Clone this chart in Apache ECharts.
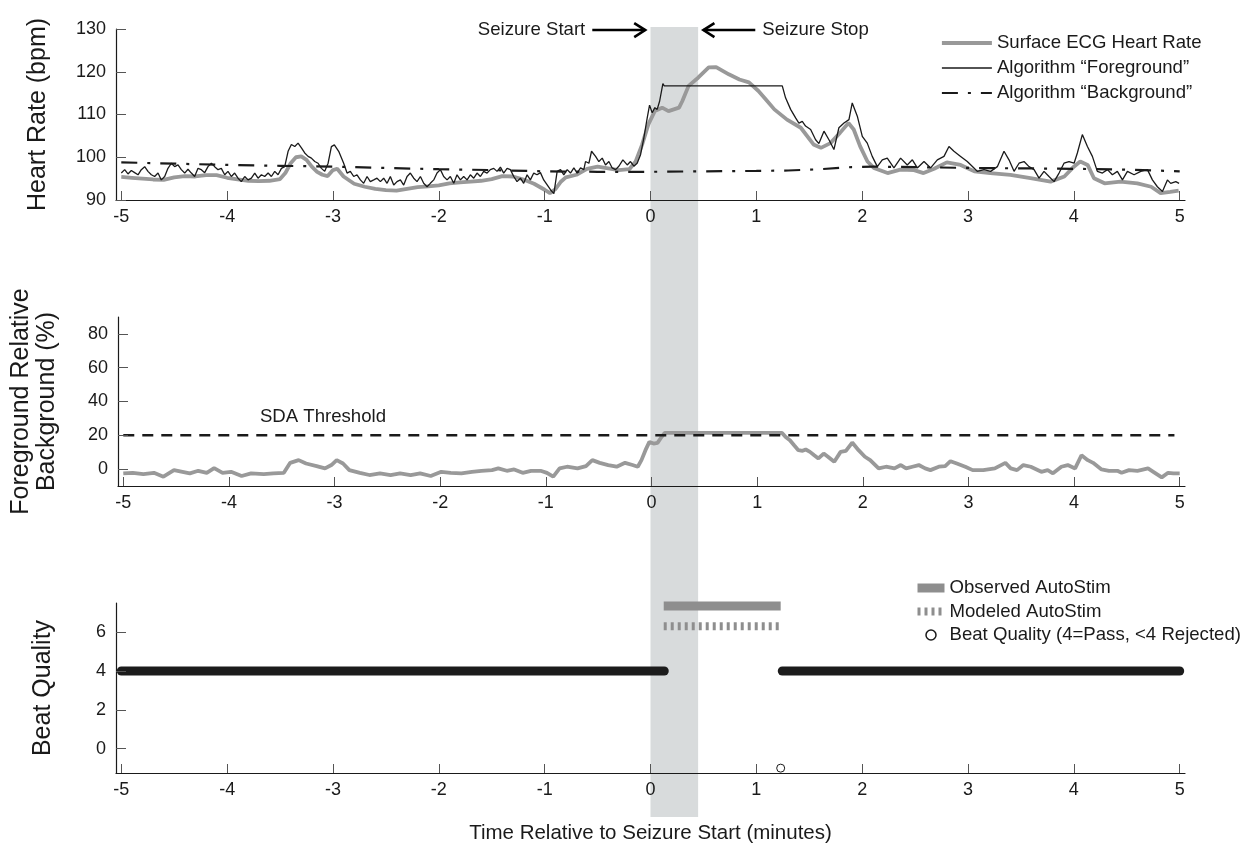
<!DOCTYPE html>
<html><head><meta charset="utf-8">
<script src="https://cdn.jsdelivr.net/npm/echarts@6/dist/echarts.min.js"></script>
<style>html,body{margin:0;padding:0;background:#fff}#c{width:1251px;height:847px}</style>
</head><body><div id="c"></div>
<script>
// ---------- data ----------
const xTicks = [-5,-4,-3,-2,-1,0,1,2,3,4,5];
const hrTicks = [90,100,110,120,130];
const relTicks = [0,20,40,60,80];
const bqTicks = [0,2,4,6];

const seizureStart = 0, seizureStop = 0.45;

const ecgTime = [-5.0,-4.9,-4.8,-4.7,-4.6,-4.5,-4.4,-4.3,-4.2,-4.1,-4.0,-3.9,-3.8,-3.7,-3.6,-3.5,-3.45,-3.4,-3.35,-3.3,-3.25,-3.2,-3.15,-3.1,-3.05,-3.0,-2.96,-2.9,-2.8,-2.7,-2.6,-2.5,-2.4,-2.3,-2.2,-2.1,-2.0,-1.9,-1.8,-1.7,-1.6,-1.5,-1.4,-1.3,-1.2,-1.1,-1.0,-0.95,-0.9,-0.85,-0.8,-0.7,-0.6,-0.5,-0.4,-0.3,-0.2,-0.14,-0.08,-0.02,0.04,0.11,0.17,0.22,0.27,0.30,0.36,0.45,0.55,0.62,0.74,0.84,0.93,1.02,1.09,1.17,1.29,1.42,1.54,1.61,1.70,1.79,1.87,1.92,1.98,2.05,2.11,2.24,2.36,2.49,2.58,2.68,2.80,2.93,3.06,3.21,3.40,3.59,3.78,3.91,4.0,4.06,4.13,4.19,4.29,4.44,4.60,4.73,4.82,4.91,4.99];
const ecgRate = [95.4,95.2,95.0,94.8,94.7,95.3,95.6,95.5,95.8,95.8,95.2,94.8,94.5,94.4,94.5,94.9,96.3,98.6,100.0,100.2,99.4,97.8,96.6,95.9,95.6,97.0,97.3,95.5,93.8,93.1,92.6,92.3,92.2,92.6,93.0,93.2,93.4,93.9,94.1,94.3,94.5,94.9,95.6,95.5,94.8,93.8,92.4,91.6,92.5,94.2,95.3,95.9,97.3,97.8,97.4,97.0,97.2,99.0,102.9,107.7,110.8,111.6,110.8,111.2,111.6,113.1,116.7,118.6,121.0,121.1,119.4,118.2,117.5,115.5,113.5,111.2,108.8,106.9,103.0,102.2,103.3,105.7,108.0,106.5,102.6,99.0,97.5,96.3,97.1,97.0,96.3,97.3,98.8,98.2,96.7,96.3,95.9,95.1,94.3,95.5,97.8,99.0,98.2,95.1,93.9,94.3,93.9,93.1,91.6,91.9,92.2];

const fgTime = [-5.0,-4.968,-4.937,-4.905,-4.874,-4.842,-4.811,-4.779,-4.748,-4.716,-4.685,-4.653,-4.622,-4.590,-4.559,-4.527,-4.496,-4.464,-4.433,-4.401,-4.370,-4.338,-4.307,-4.275,-4.244,-4.212,-4.181,-4.149,-4.118,-4.086,-4.055,-4.023,-3.992,-3.960,-3.929,-3.897,-3.866,-3.834,-3.802,-3.771,-3.739,-3.708,-3.676,-3.645,-3.613,-3.582,-3.550,-3.519,-3.487,-3.456,-3.424,-3.393,-3.361,-3.330,-3.298,-3.267,-3.235,-3.204,-3.172,-3.141,-3.109,-3.078,-3.046,-3.015,-2.987,-2.946,-2.899,-2.867,-2.836,-2.804,-2.773,-2.741,-2.710,-2.678,-2.647,-2.615,-2.584,-2.552,-2.521,-2.489,-2.458,-2.426,-2.395,-2.363,-2.332,-2.300,-2.269,-2.237,-2.206,-2.174,-2.143,-2.111,-2.080,-2.048,-2.017,-1.985,-1.954,-1.922,-1.891,-1.859,-1.828,-1.796,-1.765,-1.733,-1.702,-1.670,-1.639,-1.607,-1.576,-1.544,-1.513,-1.481,-1.450,-1.418,-1.387,-1.355,-1.324,-1.292,-1.261,-1.229,-1.198,-1.166,-1.135,-1.103,-1.072,-1.040,-1.009,-0.945,-0.913,-0.882,-0.850,-0.819,-0.787,-0.756,-0.724,-0.693,-0.661,-0.630,-0.614,-0.582,-0.557,-0.519,-0.488,-0.456,-0.425,-0.393,-0.362,-0.330,-0.299,-0.261,-0.220,-0.189,-0.157,-0.126,-0.094,-0.063,-0.031,-0.009,0.016,0.041,0.063,0.086,0.117,0.13,1.245,1.276,1.324,1.371,1.402,1.434,1.465,1.513,1.560,1.591,1.639,1.686,1.733,1.780,1.828,1.875,1.906,1.954,2.001,2.048,2.095,2.143,2.190,2.237,2.300,2.363,2.426,2.474,2.521,2.584,2.647,2.710,2.773,2.820,2.867,2.930,2.993,3.056,3.088,3.151,3.214,3.277,3.340,3.387,3.435,3.482,3.529,3.576,3.624,3.671,3.718,3.765,3.813,3.860,3.907,3.954,4.002,4.033,4.080,4.128,4.175,4.222,4.270,4.317,4.364,4.411,4.459,4.506,4.569,4.632,4.695,4.742,4.789,4.837,4.884,4.915,4.963,4.994];
const fgRate = [96.3,97.1,96.1,96.9,96.4,95.9,97.1,97.8,96.7,95.9,95.5,96.3,94.7,95.5,97.4,98.6,97.8,98.2,97.1,96.3,97.2,96.3,95.5,97.4,97.1,96.4,97.8,98.6,97.8,97.1,97.4,95.9,96.7,95.5,96.3,95.1,94.3,95.5,94.7,95.1,96.3,95.1,95.9,95.5,96.3,95.5,96.7,95.9,97.4,97.8,101.4,103.0,102.5,103.3,102.2,101.0,100.2,99.8,99.0,98.6,97.4,96.7,98.6,102.5,102.9,101.4,98.6,96.3,96.7,95.5,95.9,94.7,93.9,95.5,94.3,94.7,95.1,94.3,95.1,93.9,95.5,93.5,94.3,94.7,93.5,95.5,96.3,95.1,94.3,95.5,93.9,93.1,93.9,94.7,96.3,97.1,95.5,94.7,95.5,93.9,95.9,94.7,95.5,94.7,95.9,95.1,96.3,95.5,96.7,96.3,97.1,97.4,96.7,97.7,96.3,97.4,97.1,95.5,94.3,95.1,93.9,95.9,94.7,96.3,95.9,96.4,94.7,92.4,91.5,96.7,97.1,95.9,97.1,96.3,97.5,96.3,97.5,97.1,99.0,98.6,101.4,100.2,99.0,99.8,98.2,99.0,97.5,97.1,97.9,99.4,98.2,99.0,97.9,98.6,100.6,104.5,109.2,112.2,110.4,111.6,111.2,113.1,117.2,116.7,116.7,113.9,111.2,109.2,108.0,108.4,107.3,106.5,104.1,103.2,106.1,104.1,101.8,106.9,108.0,108.8,112.7,109.6,104.9,103.3,100.2,97.8,99.4,99.8,97.5,99.8,98.2,99.4,97.5,99.0,97.5,99.4,100.2,102.5,101.4,100.2,99.0,97.5,96.7,97.1,96.7,97.8,101.4,99.4,96.7,98.6,99.0,97.8,97.1,95.1,96.7,95.5,94.3,96.3,98.6,99.0,98.6,101.0,105.3,102.5,100.2,96.7,96.3,97.1,95.9,96.7,94.7,96.7,95.9,96.7,97.1,94.7,93.1,92.0,94.7,93.9,94.3,93.9];

const bgTime = [-5,-4.5,-4,-3.5,-3,-2.5,-2,-1.5,-1,-0.5,0,0.5,1,1.3,1.6,1.9,2.1,2.5,3,3.5,4,4.5,4.9,5];
const bgRate = [98.8,98.5,98.2,98.0,97.8,97.5,97.2,97.0,96.7,96.6,96.6,96.7,96.8,96.9,97.2,97.7,97.8,97.7,97.5,97.4,97.3,97.1,96.8,96.7];

const relTime = [-5.0,-4.91,-4.81,-4.71,-4.62,-4.52,-4.44,-4.37,-4.29,-4.21,-4.14,-4.06,-3.98,-3.88,-3.79,-3.67,-3.58,-3.48,-3.42,-3.34,-3.27,-3.17,-3.09,-3.03,-2.98,-2.92,-2.86,-2.76,-2.67,-2.57,-2.47,-2.38,-2.28,-2.19,-2.09,-1.99,-1.90,-1.80,-1.70,-1.61,-1.51,-1.45,-1.37,-1.30,-1.22,-1.14,-1.05,-0.99,-0.93,-0.87,-0.80,-0.70,-0.62,-0.56,-0.49,-0.41,-0.33,-0.25,-0.18,-0.13,-0.095,-0.057,-0.02,0.02,0.057,0.095,0.125,1.236,1.27,1.31,1.35,1.39,1.43,1.46,1.50,1.54,1.58,1.63,1.67,1.73,1.79,1.84,1.90,1.96,2.02,2.07,2.15,2.22,2.30,2.36,2.41,2.47,2.53,2.59,2.64,2.72,2.78,2.83,2.89,2.97,3.04,3.14,3.25,3.35,3.40,3.46,3.52,3.59,3.69,3.75,3.80,3.88,3.94,4.01,4.07,4.13,4.18,4.26,4.33,4.41,4.45,4.52,4.60,4.70,4.75,4.83,4.89,4.94,5.0];
const relPct = [-2.5,-2.2,-3.0,-2.2,-4.5,-0.6,-1.6,-2.5,-1.0,-2.2,0.6,-2.2,-1.6,-4.1,-2.5,-3.0,-2.5,-2.2,3.7,5.3,3.3,1.8,0.4,2.4,5.3,3.3,-0.6,-2.2,-3.5,-2.5,-3.5,-2.5,-3.5,-2.5,-4.1,-1.6,-2.2,-2.5,-1.6,-1.0,-0.6,0.4,-1.0,-0.2,-2.2,-1.0,-1.0,-2.2,-4.5,0.4,1.4,0.4,1.8,5.3,3.7,2.4,1.4,3.7,2.4,1.4,5.3,11.2,16.1,15.1,15.5,19.0,21.4,21.4,19.0,17.1,14.1,11.2,10.8,11.6,10.2,8.2,6.3,9.2,7.3,4.3,10.2,10.8,15.7,11.2,7.3,5.3,0.4,1.4,0.4,2.4,0.4,1.4,2.4,0.4,-0.6,1.4,1.8,4.7,3.3,1.4,-0.6,-0.6,0.4,3.7,0.4,-0.6,2.4,1.4,-1.6,-0.6,-2.5,1.4,2.4,0.4,8.2,5.3,3.7,-0.2,-1.0,-1.0,-2.2,-0.6,-1.0,0.4,-1.6,-4.9,-2.2,-2.5,-2.5];

const sdaThreshold = 20;
const sdaSpan = [-5.0, 4.95];
const sdaLabelAt = [-3.11, 31];

const stimSpan = [0.125, 1.23];
const observedLevel = 7.35;
const modeledLevel = 6.3;

const passLevel = 4;
const passSpans = [[-5.0, 0.13], [1.245, 5.0]];
const rejectedTime = [1.23];
const rejectedQuality = [-1];

// ---------- chart ----------
const zip = (a, b) => a.map((v, i) => [v, b[i]]);
const FONT = '"Liberation Sans", Arial, Helvetica, sans-serif';
const INK = '#1a1a1a';
const GRAY = '#999999';
const TICK = 18, TXT = 18.6;

function xAxisCfg(grid, extra) {
  return Object.assign({
    type: 'value', gridIndex: grid, min: -5.05, max: 5.05, z: 5,
    axisLine: { show: true, onZero: false, lineStyle: { color: INK, width: 1.2 } },
    axisTick: { show: true, inside: true, length: 9, customValues: xTicks, lineStyle: { color: '#555', width: 1 } },
    axisLabel: { customValues: xTicks, fontSize: TICK, color: INK, fontFamily: FONT, margin: 8 },
    splitLine: { show: false }
  }, extra || {});
}
function yAxisCfg(grid, extra) {
  return Object.assign({
    type: 'value', gridIndex: grid, z: 5,
    axisLine: { show: true, onZero: false, lineStyle: { color: INK, width: 1.2 } },
    axisTick: { show: true, inside: true, length: 10, lineStyle: { color: '#555', width: 1 } },
    axisLabel: { fontSize: TICK, color: INK, fontFamily: FONT, margin: 10 },
    splitLine: { show: false },
    nameLocation: 'middle', nameRotate: 90,
    nameTextStyle: { fontSize: 25, color: INK, fontFamily: FONT, lineHeight: 26 }
  }, extra || {});
}

const chart = echarts.init(document.getElementById('c'), null, { renderer: 'canvas' });
const option = {
  animation: false,
  backgroundColor: '#fff',
  textStyle: { fontFamily: FONT },
  grid: [
    { left: 116, width: 1069, top: 29, height: 171 },
    { left: 116, width: 1069, top: 317, height: 169 },
    { left: 116, width: 1069, top: 603, height: 170 },
    { left: 116, width: 1069, top: 27, height: 790 }
  ],
  xAxis: [
    xAxisCfg(0),
    xAxisCfg(1),
    xAxisCfg(2, { name: 'Time Relative to Seizure Start (minutes)', nameLocation: 'middle', nameGap: 50,
      nameTextStyle: { fontSize: 20.5, color: INK, fontFamily: FONT } }),
    { type: 'value', gridIndex: 3, min: -5.05, max: 5.05, show: false }
  ],
  yAxis: [
    yAxisCfg(0, { min: 90, max: 130, interval: 10, name: 'Heart Rate (bpm)', nameGap: 65 }),
    yAxisCfg(1, { min: -10, max: 90, name: 'Foreground Relative\nBackground (%)', nameGap: 58,
      axisTick: { show: true, inside: true, length: 10, customValues: relTicks, lineStyle: { color: '#555', width: 1 } },
      axisLabel: { customValues: relTicks, fontSize: TICK, color: INK, fontFamily: FONT, margin: 10 } }),
    yAxisCfg(2, { min: -1.25, max: 7.5, name: 'Beat Quality', nameGap: 60,
      axisTick: { show: true, inside: true, length: 10, customValues: bqTicks, lineStyle: { color: '#555', width: 1 } },
      axisLabel: { customValues: bqTicks, fontSize: TICK, color: INK, fontFamily: FONT, margin: 10 } }),
    { type: 'value', gridIndex: 3, min: 0, max: 1, show: false }
  ],
  legend: [
    {
      orient: 'vertical', left: 935, top: 28, itemWidth: 50, itemHeight: 14, itemGap: 5, itemTextGap: 15,
      textStyle: { fontSize: TXT, lineHeight: 20, color: INK, fontFamily: FONT },
      itemStyle: { opacity: 0 }, lineStyle: { width: 'inherit' },
      data: ['Surface ECG Heart Rate', 'Algorithm “Foreground”', 'Algorithm “Background”'],
      selectedMode: false
    },
    {
      orient: 'vertical', left: 908, top: 573, itemWidth: 27, itemHeight: 10, itemGap: 3.5, itemTextGap: 13,
      textStyle: { fontSize: TXT, lineHeight: 20, color: INK, fontFamily: FONT },
      itemStyle: { opacity: 0 }, lineStyle: { width: 'inherit' },
      data: ['Observed AutoStim', 'Modeled AutoStim',
        { name: 'Beat Quality (4=Pass, <4 Rejected)', icon: 'circle',
          itemStyle: { color: '#fff', borderColor: INK, borderWidth: 1.5, opacity: 1 } }],
      selectedMode: false
    }
  ],
  series: [
    { type: 'line', xAxisIndex: 3, yAxisIndex: 3, data: [], z: -1, silent: true,
      markArea: { silent: true, itemStyle: { color: '#d8dbdc' },
        data: [[{ xAxis: seizureStart }, { xAxis: seizureStop }]] } },
    { name: 'Surface ECG Heart Rate', type: 'line', xAxisIndex: 0, yAxisIndex: 0, symbol: 'none',
      data: zip(ecgTime, ecgRate), lineStyle: { color: GRAY, width: 3.8 }, itemStyle: { color: GRAY }, z: 2 },
    { name: 'Algorithm “Foreground”', type: 'line', xAxisIndex: 0, yAxisIndex: 0, symbol: 'none',
      data: zip(fgTime, fgRate), lineStyle: { color: INK, width: 1.3 }, itemStyle: { color: INK }, z: 3 },
    { name: 'Algorithm “Background”', type: 'line', xAxisIndex: 0, yAxisIndex: 0, symbol: 'none',
      data: zip(bgTime, bgRate), lineStyle: { color: INK, width: 2.2, type: [16, 10, 3, 10] }, itemStyle: { color: INK }, z: 4 },
    { name: 'Relative', type: 'line', xAxisIndex: 1, yAxisIndex: 1, symbol: 'none',
      data: zip(relTime, relPct), lineStyle: { color: GRAY, width: 3.8 }, z: 2 },
    { name: 'SDA Threshold', type: 'line', xAxisIndex: 1, yAxisIndex: 1, symbol: 'none',
      data: sdaSpan.map(x => [x, sdaThreshold]), lineStyle: { color: INK, width: 2.5, type: [11, 8] }, z: 3 },
    { name: 'SDA label', type: 'scatter', xAxisIndex: 1, yAxisIndex: 1, symbolSize: 0, silent: true,
      data: [sdaLabelAt], itemStyle: { opacity: 1 },
      label: { show: true, position: 'inside', formatter: 'SDA Threshold', fontSize: TXT, color: INK,
        fontFamily: FONT, opacity: 1, textBorderWidth: 0 } },
    { name: 'Observed AutoStim', type: 'line', xAxisIndex: 2, yAxisIndex: 2, symbol: 'none',
      data: stimSpan.map(x => [x, observedLevel]), lineStyle: { color: '#8e8e8e', width: 9, cap: 'butt' }, itemStyle: { color: '#8e8e8e' } },
    { name: 'Modeled AutoStim', type: 'line', xAxisIndex: 2, yAxisIndex: 2, symbol: 'none',
      data: stimSpan.map(x => [x, modeledLevel]), lineStyle: { color: '#8e8e8e', width: 8, type: [3, 4], cap: 'butt' }, itemStyle: { color: '#8e8e8e' } },
    ...passSpans.map(s => ({ name: 'Beat Quality (4=Pass, <4 Rejected)', type: 'line', xAxisIndex: 2, yAxisIndex: 2, symbol: 'none',
      data: s.map(x => [x, passLevel]), lineStyle: { color: '#1c1c1c', width: 9, cap: 'round' }, itemStyle: { color: INK }, z: 3 })),
    { name: 'Beat Quality (4=Pass, <4 Rejected)', type: 'scatter', xAxisIndex: 2, yAxisIndex: 2,
      symbol: 'circle', symbolSize: 8, data: zip(rejectedTime, rejectedQuality),
      itemStyle: { color: '#fff', borderColor: INK, borderWidth: 1, opacity: 1 }, z: 4 }
  ]
};
chart.setOption(option);

// Seizure start / stop annotations placed through the axes
const arrowY = chart.convertToPixel({ yAxisIndex: 0 }, 129.75);
const px = v => chart.convertToPixel({ xAxisIndex: 0 }, v);
function arrow(tail, tip) {
  const dir = tip > tail ? 1 : -1;
  return [
    { type: 'line', shape: { x1: tail, y1: arrowY, x2: tip, y2: arrowY }, style: { stroke: '#000', lineWidth: 2.6 }, z: 10 },
    { type: 'polyline', shape: { points: [[tip - dir * 11, arrowY - 7], [tip, arrowY], [tip - dir * 11, arrowY + 7]] },
      style: { stroke: '#000', lineWidth: 2.6, fill: null }, z: 10 }
  ];
}
const sTail = px(-0.55), sTip = px(-0.05), eTip = px(0.5), eTail = px(0.99);
chart.setOption({
  graphic: [
    ...arrow(sTail, sTip), ...arrow(eTail, eTip),
    { type: 'text', x: sTail - 7, y: arrowY, z: 10,
      style: { text: 'Seizure Start', fontSize: TXT, fontFamily: FONT, fill: INK, align: 'right', verticalAlign: 'middle' } },
    { type: 'text', x: eTail + 7, y: arrowY, z: 10,
      style: { text: 'Seizure Stop', fontSize: TXT, fontFamily: FONT, fill: INK, align: 'left', verticalAlign: 'middle' } }
  ]
});
</script>
</body></html>
